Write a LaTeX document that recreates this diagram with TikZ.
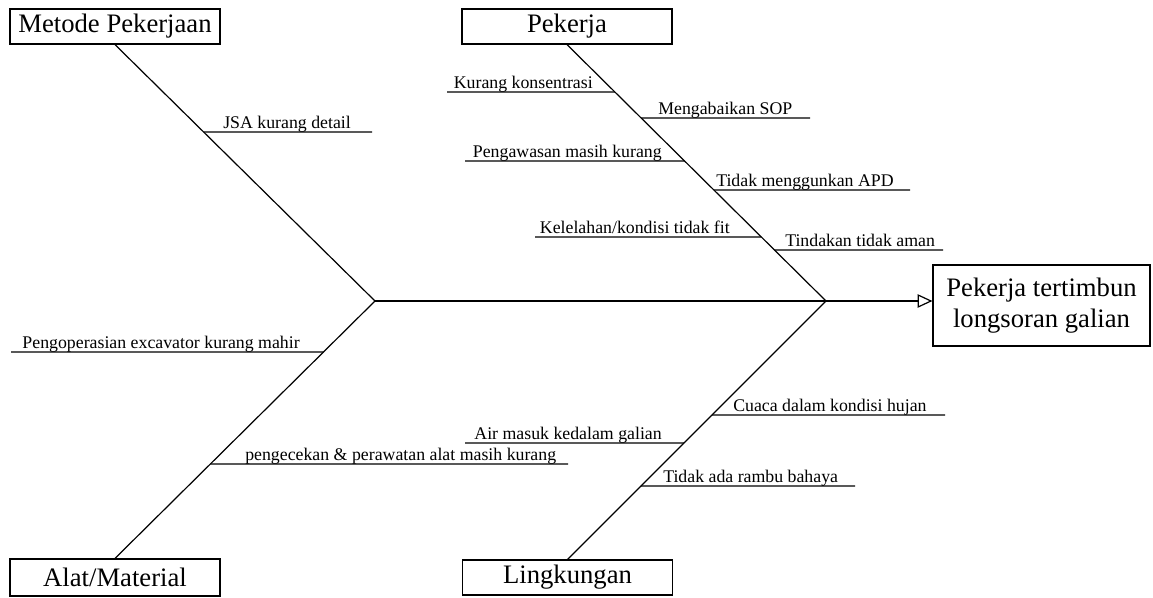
\documentclass[tikz,border=0pt]{standalone}
\usepackage{fontspec}
\setmainfont{Liberation Serif}
\usetikzlibrary{arrows.meta}
\begin{document}
\begin{tikzpicture}[x=0.75pt,y=-0.75pt,
  catbox/.style={draw, line width=0.9pt, minimum width=157.5pt, minimum height=26.25pt, inner sep=0pt, font=\fontsize{20}{24}\selectfont},
  bone/.style={line width=0.9pt},
  rib/.style={line width=0.9pt},
  lbl/.style={inner sep=0pt, font=\fontsize{13.35}{16}\selectfont}]
\useasboundingbox (0,0) rectangle (1153,597);
% category boxes
\node[catbox] (mp) at (115,26.5) {Metode Pekerjaan};
\node[catbox] (pk) at (567,26.5) {Pekerja};
\node[catbox, minimum height=27.75pt] (am) at (115,577.5) {Alat/Material};
\node[catbox] (lk) at (567.5,577.5) {Lingkungan};
\node[catbox, minimum width=162.75pt, minimum height=60.75pt, align=center, font=\fontsize{20}{23.5}\selectfont] (ef) at (1041.5,305.5) {Pekerja tertimbun\\longsoran galian};
% spine and bones
\coordinate (jL) at (375,301);
\coordinate (jR) at (826,301);
\draw[bone] (mp.south) -- (jL) -- (am.north);
\draw[bone] (pk.south) -- (jR) -- (lk.north);
\draw[bone, -{Triangle[open,length=11pt,width=10pt]}] (jL) -- (ef.west |- jR);
% Metode Pekerjaan ribs
\coordinate (b1) at (intersection of mp.south--jL and 0,132--1,132);
\coordinate (e1) at (372,132);
\draw[rib] (b1) -- (e1);
\node[lbl, anchor=base west] (t1) at (223,128) {JSA kurang detail};
% Pekerja ribs
\coordinate (b2) at (intersection of pk.south--jR and 0,92--1,92);
\coordinate (e2) at (447,92);
\draw[rib] (e2) -- (b2);
\node[lbl, anchor=base east] (t2) at (593,88) {Kurang konsentrasi};
\coordinate (b3) at (intersection of pk.south--jR and 0,118--1,118);
\coordinate (e3) at (810,118);
\draw[rib] (b3) -- (e3);
\node[lbl, anchor=base west] (t3) at (658,114) {Mengabaikan SOP};
\coordinate (b4) at (intersection of pk.south--jR and 0,161--1,161);
\coordinate (e4) at (465,161);
\draw[rib] (e4) -- (b4);
\node[lbl, anchor=base east] (t4) at (662,157) {Pengawasan masih kurang};
\coordinate (b5) at (intersection of pk.south--jR and 0,190--1,190);
\coordinate (e5) at (910,190);
\draw[rib] (b5) -- (e5);
\node[lbl, anchor=base west] (t5) at (716,186) {Tidak menggunkan APD};
\coordinate (b6) at (intersection of pk.south--jR and 0,237--1,237);
\coordinate (e6) at (535,237);
\draw[rib] (e6) -- (b6);
\node[lbl, anchor=base east] (t6) at (730,233) {Kelelahan/kondisi tidak fit};
\coordinate (b7) at (intersection of pk.south--jR and 0,250--1,250);
\coordinate (e7) at (943,250);
\draw[rib] (b7) -- (e7);
\node[lbl, anchor=base west] (t7) at (785,246) {Tindakan tidak aman};
% Alat/Material ribs
\coordinate (b8) at (intersection of am.north--jL and 0,352--1,352);
\coordinate (e8) at (11,352);
\draw[rib] (e8) -- (b8);
\node[lbl, anchor=base east] (t8) at (300,348) {Pengoperasian excavator kurang mahir};
\coordinate (b9) at (intersection of am.north--jL and 0,464--1,464);
\coordinate (e9) at (568,464);
\draw[rib] (b9) -- (e9);
\node[lbl, anchor=base west] (t9) at (245,460) {pengecekan \& perawatan alat masih kurang};
% Lingkungan ribs
\coordinate (b10) at (intersection of lk.north--jR and 0,415--1,415);
\coordinate (e10) at (945,415);
\draw[rib] (b10) -- (e10);
\node[lbl, anchor=base west] (t10) at (733,411) {Cuaca dalam kondisi hujan};
\coordinate (b11) at (intersection of lk.north--jR and 0,443--1,443);
\coordinate (e11) at (465,443);
\draw[rib] (e11) -- (b11);
\node[lbl, anchor=base east] (t11) at (662,439) {Air masuk kedalam galian};
\coordinate (b12) at (intersection of lk.north--jR and 0,486--1,486);
\coordinate (e12) at (855,486);
\draw[rib] (b12) -- (e12);
\node[lbl, anchor=base west] (t12) at (663,482) {Tidak ada rambu bahaya};
\end{tikzpicture}
\end{document}
